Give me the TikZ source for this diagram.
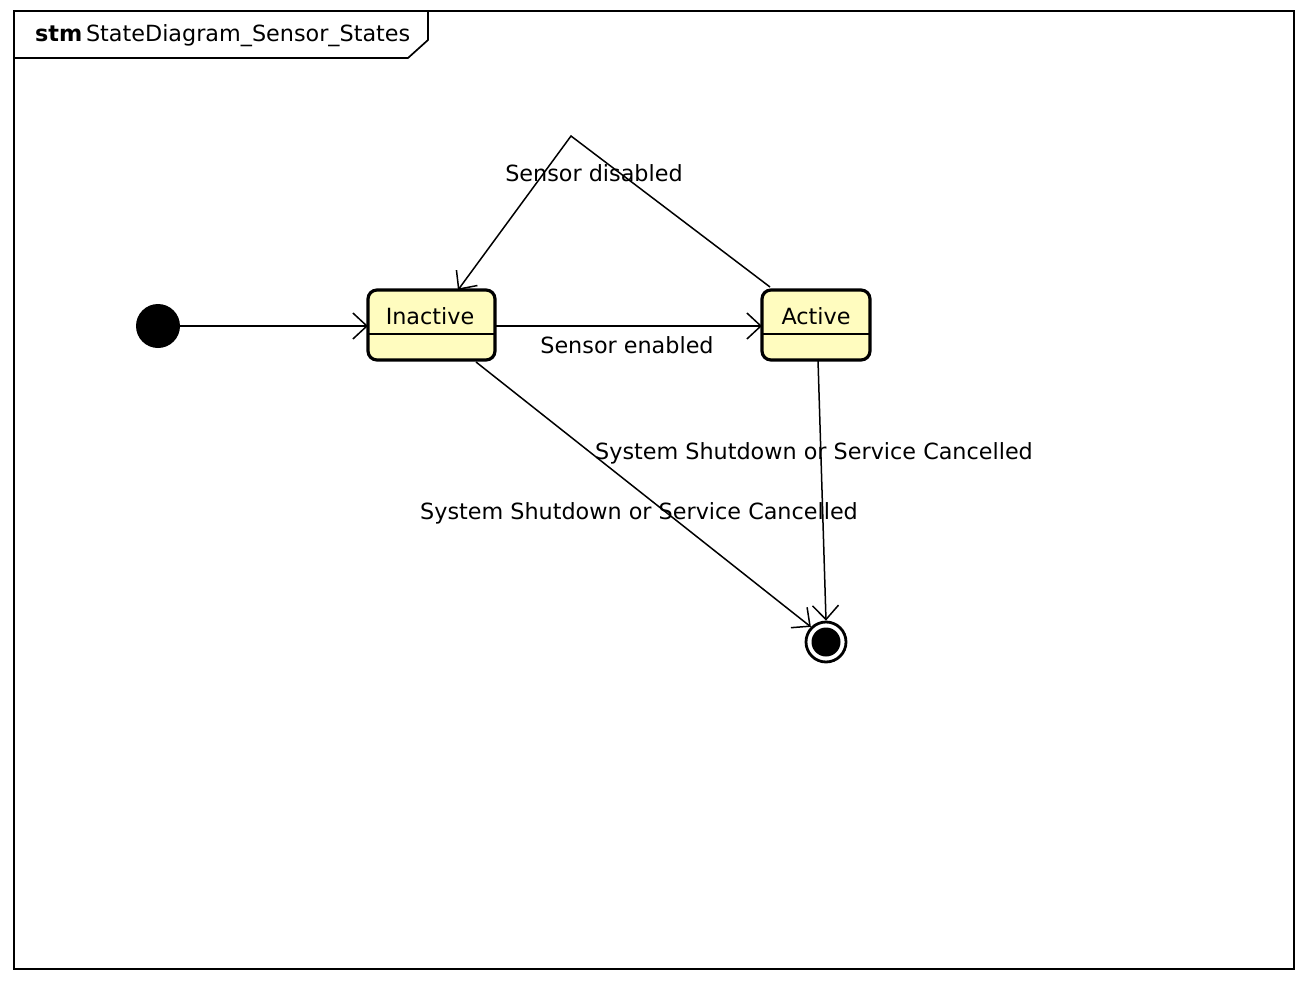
\documentclass[tikz,border=0pt]{standalone}
\usepackage{fontspec}
\setmainfont{DejaVu Sans}
\usetikzlibrary{arrows.meta}
\begin{document}
\begin{tikzpicture}[x=1pt,y=-1pt,
  lbl/.style={font=\fontsize{22.3}{25}\selectfont, inner sep=0pt},
  statebox/.style={draw, line width=3.2pt, rounded corners=9pt, fill=yellow!25!white},
  trans/.style={line width=1.5pt, -{Straight Barb[length=14pt,width=26pt,line width=1.5pt]}}]
\useasboundingbox (0,0) rectangle (1312,990);
% frame
\draw[line width=2pt] (14,11) rectangle (1294,969);
\draw[line width=1.7pt] (14,58) -- (408,58) -- (428,40) -- (428,11);
\node[lbl, anchor=west] (title) at (35,36) {\textbf{stm}\,StateDiagram\_Sensor\_States};
% initial
\node[circle, fill=black, minimum size=44pt, inner sep=0pt] (init) at (158,326) {};
% states
\draw[statebox] (368,290) rectangle (495,360);
\draw[line width=1.5pt] (368,334) -- (495,334);
\node[lbl] (inactivetxt) at (430,316) {Inactive};
\coordinate (inW) at (368,326);
\coordinate (inE) at (495,326);
\coordinate (inTop) at (458,290);
\coordinate (inBot) at (476,362);
\draw[statebox] (762,290) rectangle (870,360);
\draw[line width=1.5pt] (762,334) -- (870,334);
\node[lbl] (activetxt) at (816,316) {Active};
\coordinate (acW) at (762,326);
\coordinate (acTop) at (770,287);
\coordinate (acBot) at (818,360);
% final
\node[circle, draw, line width=2.8pt, minimum size=40pt, inner sep=0pt] (final) at (826,642) {};
\node[circle, fill=black, minimum size=29pt, inner sep=0pt] (finalin) at (826,642) {};
\coordinate (bend) at (571,136);
% transitions
\draw[trans] (init.east) -- (inW);
\draw[trans] (inE) -- (acW);
\node[lbl] (l1) at (627,345) {Sensor enabled};
\draw[trans] (acTop) -- (bend) -- (inTop);
\node[lbl] (l2) at (594,173) {Sensor disabled};
\draw[trans] (inBot) -- (final.north west);
\node[lbl] (l3) at (639,513) {System Shutdown or Service Cancelled};
\draw[trans] (acBot) -- (final.north);
\node[lbl] (l4) at (814,453) {System Shutdown or Service Cancelled};
\end{tikzpicture}
\end{document}
